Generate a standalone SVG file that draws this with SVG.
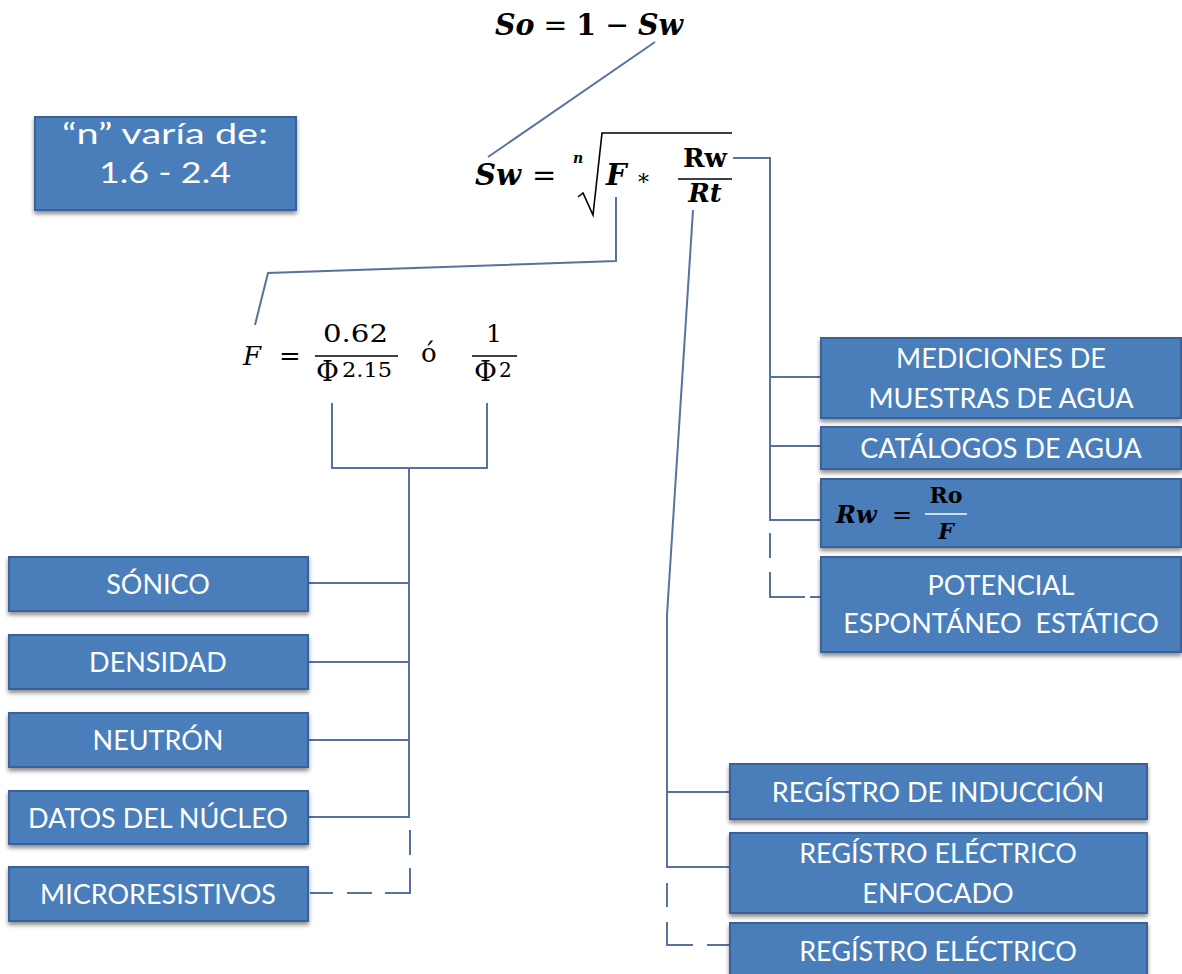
<svg xmlns="http://www.w3.org/2000/svg" width="1182" height="974" viewBox="0 0 1182 974">
<defs>
<filter id="sh" x="-5%" y="-10%" width="110%" height="135%">
<feDropShadow dx="0" dy="3" stdDeviation="2" flood-color="#000" flood-opacity="0.45"/>
</filter>
</defs>
<style>
.box{fill:#4A7EBB;stroke:#3A619A;stroke-width:2;filter:url(#sh)}
.t{font-family:Lato,"Open Sans",sans-serif;font-size:27px;fill:#fff;text-anchor:middle}
.big{font-size:29px}
.ln{fill:none;stroke:#5872A0;stroke-width:2}
.m{font-family:"DejaVu Serif","Liberation Serif",serif;fill:#000}
.bi{font-weight:bold;font-style:italic}
.b{font-weight:bold}
.bar{stroke:#000;stroke-width:1.5}
</style>
<rect width="1182" height="974" fill="#fff"/>

<g id="connectors">
<path class="ln" d="M655,42 L488,157"/>
<path class="ln" d="M616,197 V261 L268,273 L255,325"/>
<path class="ln" d="M332,403 V468 H487 V403"/>
<path class="ln" d="M409,468 V817 H308"/>
<path class="ln" d="M409,583 H308 M409,662 H308 M409,740 H308"/>
<path class="ln" d="M410,830 V855 M410,868 V893 H385 M372,893 H347 M333,893 H310"/>
<path class="ln" d="M733,158 H770 V520 H820 M770,377 H820 M770,446 H820"/>
<path class="ln" d="M770,533 V558 M770,572 V597 H805 M810,597 H820"/>
<path class="ln" d="M693,210 L667,615 V867 H730 M667,792 H730"/>
<path class="ln" d="M667,883 V907 M667,922 V945 H693 M707,945 H730"/>
</g>

<g id="eq-so">
<text class="m" x="495" y="35" font-size="30" textLength="188" lengthAdjust="spacingAndGlyphs"><tspan class="bi">So</tspan><tspan> = </tspan><tspan class="b">1</tspan><tspan> − </tspan><tspan class="bi">Sw</tspan></text>
</g>

<g id="eq-sw">
<text class="m bi" x="475" y="185" font-size="29">Sw</text>
<text class="m" x="532" y="185" font-size="29">=</text>
<text class="m bi" x="573" y="163" font-size="14">n</text>
<path d="M578,197 L583,193 L593,215 L602,133 H732" fill="none" stroke="#000" stroke-width="1.6"/>
<text class="m bi" x="606" y="185" font-size="29">F</text>
<text class="m" x="636" y="185" font-size="22">∗</text>
<text class="m b" x="705" y="167" font-size="26" text-anchor="middle">Rw</text>
<line class="bar" x1="678" y1="179" x2="732" y2="179"/>
<text class="m bi" x="705" y="202" font-size="26" text-anchor="middle">Rt</text>
</g>

<g id="eq-f">
<text class="m" x="243" y="365" font-size="26" font-style="italic">F</text>
<text class="m" x="279" y="365" font-size="26">=</text>
<text class="m" x="323" y="342" font-size="25" textLength="65" lengthAdjust="spacingAndGlyphs">0.62</text>
<line class="bar" x1="315" y1="356" x2="398" y2="356" stroke-width="1.2"/>
<text class="m" x="316" y="381" font-size="28">Φ</text>
<text class="m" x="342" y="377" font-size="20" textLength="50" lengthAdjust="spacingAndGlyphs">2.15</text>
<text class="m" x="421" y="362" font-size="26">ó</text>
<text class="m" x="494" y="342" font-size="25" text-anchor="middle">1</text>
<line class="bar" x1="472" y1="356" x2="517" y2="356" stroke-width="1.2"/>
<text class="m" x="474" y="381" font-size="28">Φ</text>
<text class="m" x="499" y="377" font-size="20">2</text>
</g>

<g id="n-range">
<rect class="box" x="35" y="117" width="261" height="93"/>
<text class="t big" x="165" y="144" textLength="206" lengthAdjust="spacingAndGlyphs">“n” varía de:</text>
<text class="t big" x="165" y="183" textLength="132" lengthAdjust="spacingAndGlyphs">1.6 - 2.4</text>
</g>

<g id="sonico">
<rect class="box" x="9" y="557" width="299" height="54"/>
<text class="t" x="158" y="594">SÓNICO</text>
</g>
<g id="densidad">
<rect class="box" x="9" y="635" width="299" height="54"/>
<text class="t" x="158" y="672">DENSIDAD</text>
</g>
<g id="neutron">
<rect class="box" x="9" y="713" width="299" height="54"/>
<text class="t" x="158" y="750">NEUTRÓN</text>
</g>
<g id="nucleo">
<rect class="box" x="9" y="791" width="299" height="53"/>
<text class="t" x="158" y="828">DATOS DEL NÚCLEO</text>
</g>
<g id="micro">
<rect class="box" x="9" y="867" width="299" height="54"/>
<text class="t" x="158" y="904">MICRORESISTIVOS</text>
</g>

<g id="mediciones">
<rect class="box" x="821" y="338" width="360" height="80"/>
<text class="t" x="1001" y="368">MEDICIONES DE</text>
<text class="t" x="1001" y="408">MUESTRAS DE AGUA</text>
</g>
<g id="catalogos">
<rect class="box" x="821" y="427" width="360" height="42"/>
<text class="t" x="1001" y="458">CATÁLOGOS DE AGUA</text>
</g>
<g id="rw-eq">
<rect class="box" x="821" y="479" width="360" height="68"/>
<text class="m bi" x="836" y="523" font-size="24" fill="#fff">Rw</text>
<text class="m" x="892" y="523" font-size="24" fill="#fff">=</text>
<text class="m b" x="946" y="503" font-size="22" fill="#fff" text-anchor="middle">Ro</text>
<line x1="925" y1="514" x2="967" y2="514" stroke="#fff" stroke-width="1.5"/>
<text class="m bi" x="946" y="539" font-size="22" fill="#fff" text-anchor="middle">F</text>
</g>
<g id="potencial">
<rect class="box" x="821" y="557" width="360" height="95"/>
<text class="t" x="1001" y="595">POTENCIAL</text>
<text class="t" x="1001" y="633" xml:space="preserve">ESPONTÁNEO  ESTÁTICO</text>
</g>

<g id="induccion">
<rect class="box" x="730" y="764" width="417" height="55"/>
<text class="t" x="938" y="802">REGÍSTRO DE INDUCCIÓN</text>
</g>
<g id="enfocado">
<rect class="box" x="730" y="833" width="417" height="80"/>
<text class="t" x="938" y="863">REGÍSTRO ELÉCTRICO</text>
<text class="t" x="938" y="903">ENFOCADO</text>
</g>
<g id="electrico">
<rect class="box" x="730" y="923" width="417" height="60"/>
<text class="t" x="938" y="961">REGÍSTRO ELÉCTRICO</text>
</g>
</svg>
